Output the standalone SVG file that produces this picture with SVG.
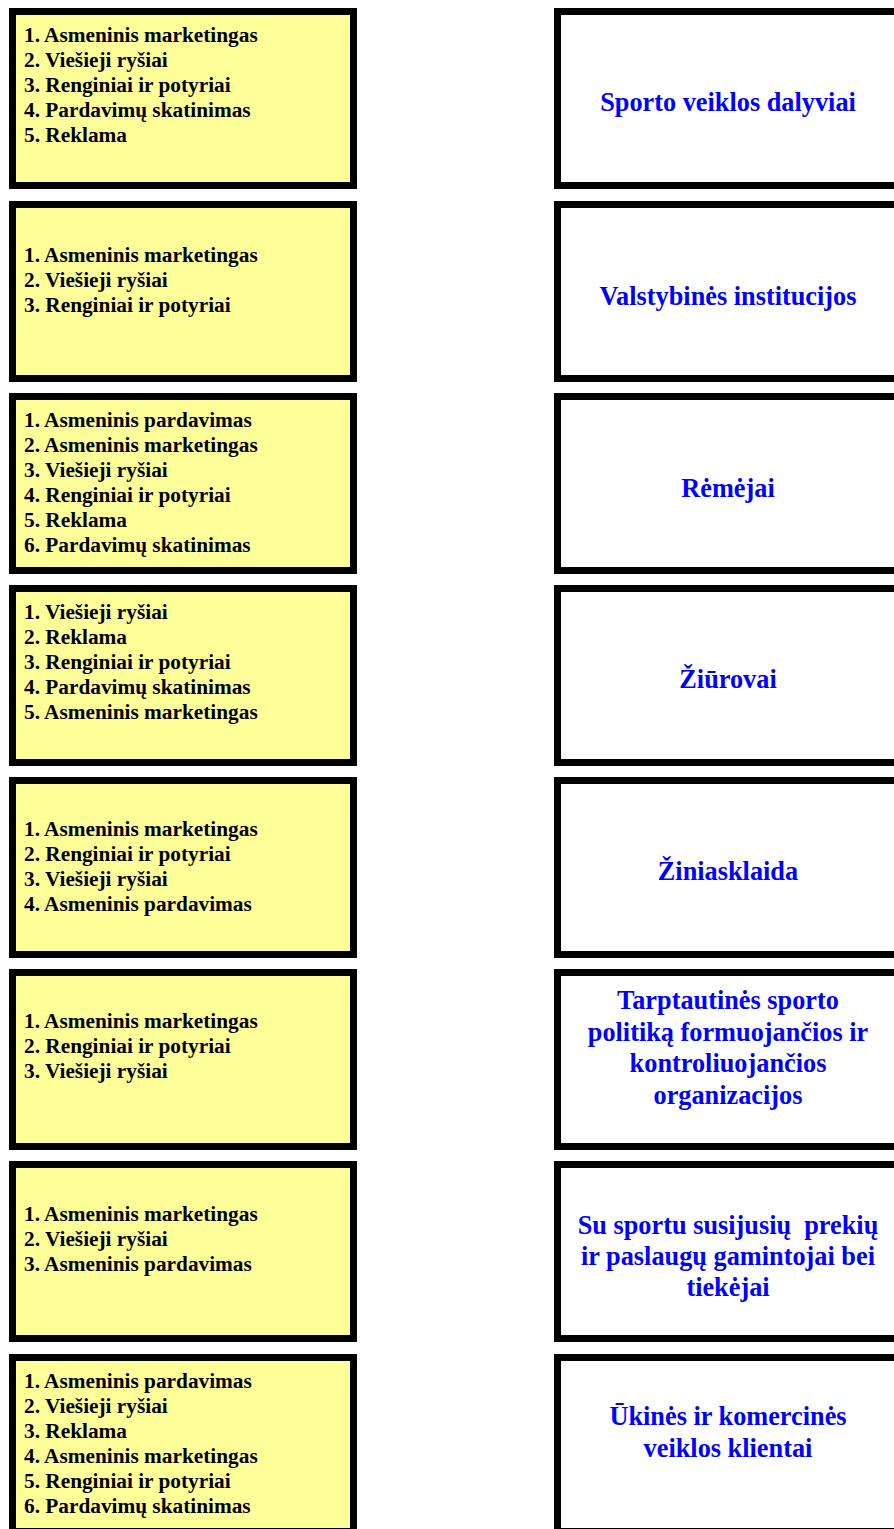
<svg xmlns="http://www.w3.org/2000/svg" width="894" height="1529" viewBox="0 0 894 1529">
<style>
.lbox{fill:#FFFF99;stroke:#000;stroke-width:7}
.rbox{fill:#FFFFFF;stroke:#000;stroke-width:7}
.lt{font-family:"Liberation Serif","Times New Roman",serif;font-weight:bold;font-size:21.3px;fill:#000}
.rt{font-family:"Liberation Serif","Times New Roman",serif;font-weight:bold;font-size:26.3px;fill:#0000FF;text-anchor:middle;white-space:pre}
</style>
<rect width="894" height="1529" fill="#FFFFFF"/>
<g id="connectors"/>

<g id="tools1">
<rect class="lbox" x="12.5" y="11.5" width="341" height="174"/>
<text class="lt" x="24" y="42">1. Asmeninis marketingas</text>
<text class="lt" x="24" y="67">2. Viešieji ryšiai</text>
<text class="lt" x="24" y="92">3. Renginiai ir potyriai</text>
<text class="lt" x="24" y="117">4. Pardavimų skatinimas</text>
<text class="lt" x="24" y="142">5. Reklama</text>
</g>
<g id="target1">
<rect class="rbox" x="557.5" y="11.5" width="341" height="174"/>
<text class="rt" x="728" y="111">Sporto veiklos dalyviai</text>
</g>

<g id="tools2">
<rect class="lbox" x="12.5" y="204.5" width="341" height="174"/>
<text class="lt" x="24" y="261.5">1. Asmeninis marketingas</text>
<text class="lt" x="24" y="286.5">2. Viešieji ryšiai</text>
<text class="lt" x="24" y="311.5">3. Renginiai ir potyriai</text>
</g>
<g id="target2">
<rect class="rbox" x="557.5" y="204.5" width="341" height="174"/>
<text class="rt" x="728" y="305">Valstybinės institucijos</text>
</g>

<g id="tools3">
<rect class="lbox" x="12.5" y="396.5" width="341" height="174"/>
<text class="lt" x="24" y="427">1. Asmeninis pardavimas</text>
<text class="lt" x="24" y="452">2. Asmeninis marketingas</text>
<text class="lt" x="24" y="477">3. Viešieji ryšiai</text>
<text class="lt" x="24" y="502">4. Renginiai ir potyriai</text>
<text class="lt" x="24" y="527">5. Reklama</text>
<text class="lt" x="24" y="552">6. Pardavimų skatinimas</text>
</g>
<g id="target3">
<rect class="rbox" x="557.5" y="396.5" width="341" height="174"/>
<text class="rt" x="728" y="497">Rėmėjai</text>
</g>

<g id="tools4">
<rect class="lbox" x="12.5" y="588.5" width="341" height="174"/>
<text class="lt" x="24" y="619">1. Viešieji ryšiai</text>
<text class="lt" x="24" y="644">2. Reklama</text>
<text class="lt" x="24" y="669">3. Renginiai ir potyriai</text>
<text class="lt" x="24" y="694">4. Pardavimų skatinimas</text>
<text class="lt" x="24" y="719">5. Asmeninis marketingas</text>
</g>
<g id="target4">
<rect class="rbox" x="557.5" y="588.5" width="341" height="174"/>
<text class="rt" x="728" y="688">Žiūrovai</text>
</g>

<g id="tools5">
<rect class="lbox" x="12.5" y="780.5" width="341" height="174"/>
<text class="lt" x="24" y="836">1. Asmeninis marketingas</text>
<text class="lt" x="24" y="861">2. Renginiai ir potyriai</text>
<text class="lt" x="24" y="886">3. Viešieji ryšiai</text>
<text class="lt" x="24" y="911">4. Asmeninis pardavimas</text>
</g>
<g id="target5">
<rect class="rbox" x="557.5" y="780.5" width="341" height="174"/>
<text class="rt" x="728" y="880">Žiniasklaida</text>
</g>

<g id="tools6">
<rect class="lbox" x="12.5" y="972.5" width="341" height="174"/>
<text class="lt" x="24" y="1028">1. Asmeninis marketingas</text>
<text class="lt" x="24" y="1053">2. Renginiai ir potyriai</text>
<text class="lt" x="24" y="1078">3. Viešieji ryšiai</text>
</g>
<g id="target6">
<rect class="rbox" x="557.5" y="972.5" width="341" height="174"/>
<text class="rt" x="728" y="1009">Tarptautinės sporto</text>
<text class="rt" x="728" y="1040.5">politiką formuojančios ir</text>
<text class="rt" x="728" y="1072">kontroliuojančios</text>
<text class="rt" x="728" y="1103.5">organizacijos</text>
</g>

<g id="tools7">
<rect class="lbox" x="12.5" y="1164.5" width="341" height="174"/>
<text class="lt" x="24" y="1220.5">1. Asmeninis marketingas</text>
<text class="lt" x="24" y="1245.5">2. Viešieji ryšiai</text>
<text class="lt" x="24" y="1270.5">3. Asmeninis pardavimas</text>
</g>
<g id="target7">
<rect class="rbox" x="557.5" y="1164.5" width="341" height="174"/>
<text class="rt" x="728" y="1233.5" xml:space="preserve">Su sportu susijusių  prekių</text>
<text class="rt" x="728" y="1264.5">ir paslaugų gamintojai bei</text>
<text class="rt" x="728" y="1295.5">tiekėjai</text>
</g>

<g id="tools8">
<rect class="lbox" x="12.5" y="1357.5" width="341" height="174"/>
<text class="lt" x="24" y="1388">1. Asmeninis pardavimas</text>
<text class="lt" x="24" y="1413">2. Viešieji ryšiai</text>
<text class="lt" x="24" y="1438">3. Reklama</text>
<text class="lt" x="24" y="1463">4. Asmeninis marketingas</text>
<text class="lt" x="24" y="1488">5. Renginiai ir potyriai</text>
<text class="lt" x="24" y="1513">6. Pardavimų skatinimas</text>
</g>
<g id="target8">
<rect class="rbox" x="557.5" y="1357.5" width="341" height="174"/>
<text class="rt" x="728" y="1425">Ūkinės ir komercinės</text>
<text class="rt" x="728" y="1456.5">veiklos klientai</text>
</g>
</svg>
